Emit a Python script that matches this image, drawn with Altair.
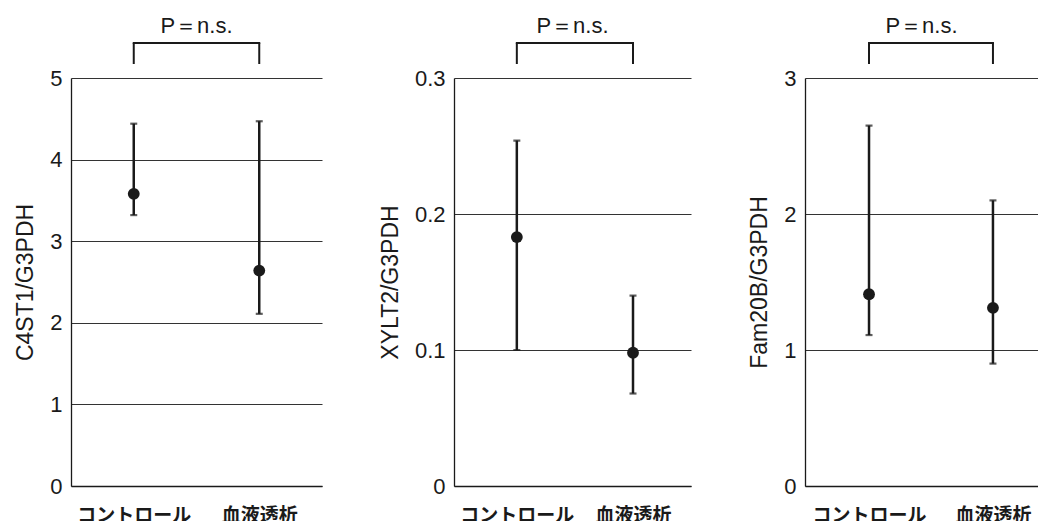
import altair as alt
import pandas as pd

groups = ["コントロール", "血液透析"]

c4st1_mean = [3.58, 2.64]
c4st1_low = [3.32, 2.11]
c4st1_high = [4.44, 4.47]

xylt2_mean = [0.183, 0.098]
xylt2_low = [0.100, 0.068]
xylt2_high = [0.254, 0.140]

fam20b_mean = [1.41, 1.31]
fam20b_low = [1.11, 0.90]
fam20b_high = [2.65, 2.10]

panel_titles = ["C4ST1/G3PDH", "XYLT2/G3PDH", "Fam20B/G3PDH"]
y_ticks = [[0, 1, 2, 3, 4, 5], [0, 0.1, 0.2, 0.3], [0, 1, 2, 3]]
p_label = "P＝n.s."

LATIN = "Liberation Sans"
INK = "#1a1a1a"


def panel(title, mean, low, high, ticks, width, pad, align):
    df = pd.DataFrame({"group": groups, "mean": mean, "low": low, "high": high})
    xs = alt.X(
        "group:N",
        sort=groups,
        scale=alt.Scale(domain=groups, type="point", padding=pad, align=align),
        axis=alt.Axis(
            title=None, labelAngle=0, ticks=False, domainColor=INK, domainWidth=1.3,
            labelFont="Noto Sans CJK JP", labelFontSize=19, labelFontWeight="bold",
            labelColor=INK, labelPadding=20, grid=False,
        ),
    )
    ys = alt.Y(
        "mean:Q",
        scale=alt.Scale(domain=[ticks[0], ticks[-1]], nice=False, zero=True),
        axis=alt.Axis(
            title=title, values=ticks, format="~g", ticks=False, grid=True,
            gridColor="#333333", gridWidth=1, domainColor=INK, domainWidth=1.3,
            labelFont=LATIN, labelFontSize=22, labelColor=INK, labelPadding=9,
            titleFont=LATIN, titleFontSize=23, titleFontWeight="normal",
            titleColor=INK, titlePadding=12,
        ),
    )
    base = alt.Chart(df)
    bars = base.mark_rule(color=INK, strokeWidth=2.5).encode(
        x=xs, y=alt.Y("low:Q"), y2="high:Q"
    )
    cap_lo = base.mark_tick(color=INK, size=7, thickness=2.2, orient="horizontal").encode(
        x=xs, y="low:Q"
    )
    cap_hi = base.mark_tick(color=INK, size=7, thickness=2.2, orient="horizontal").encode(
        x=xs, y="high:Q"
    )
    dots = base.mark_circle(color=INK, size=140, opacity=1).encode(x=xs, y=ys)
    br_h = base.mark_line(color=INK, strokeWidth=2, strokeCap="square").encode(
        x=xs, y=alt.value(-35)
    )
    br_v = base.mark_rule(color=INK, strokeWidth=2).encode(
        x=xs, y=alt.value(-35), y2=alt.value(-14)
    )
    return alt.layer(dots, bars, cap_lo, cap_hi, br_h, br_v).properties(
        width=width,
        height=408,
        title=alt.TitleParams(
            p_label, font=LATIN, fontSize=22, fontWeight="normal", color=INK,
            frame="group", anchor="middle", offset=1,
        ),
    )


chart = alt.hconcat(
    panel(panel_titles[0], c4st1_mean, c4st1_low, c4st1_high, y_ticks[0], 251, 0.5, 0.5),
    panel(panel_titles[1], xylt2_mean, xylt2_low, xylt2_high, y_ticks[1], 237, 0.52, 0.52),
    panel(panel_titles[2], fam20b_mean, fam20b_low, fam20b_high, y_ticks[2], 233, 0.44, 0.587),
    spacing=57,
).properties(
    padding={"left": 6, "top": 7, "right": 0, "bottom": 0},
    background="white",
).configure_view(stroke=None)

chart.save("out.html", embed_options={"renderer": "svg", "actions": False})
